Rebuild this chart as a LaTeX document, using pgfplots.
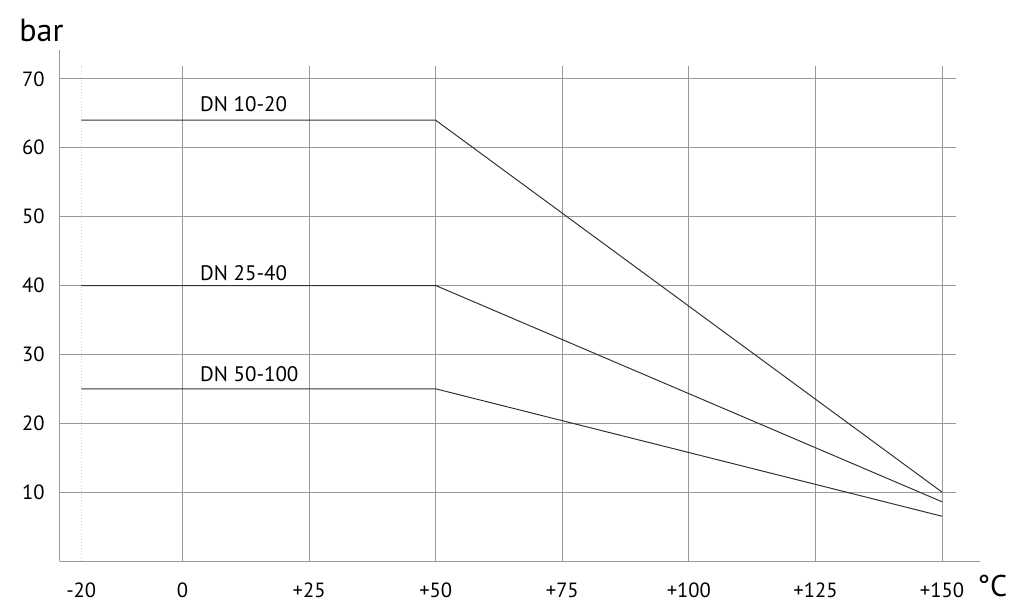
\documentclass[border=0pt]{standalone}
\usepackage{fontspec}
\setmainfont{PT Sans}
\usepackage{pgfplots}
\pgfplotsset{compat=1.18}
\begin{document}
\begin{tikzpicture}
\path[use as bounding box] (-30pt,-27.5pt) rectangle (482pt,280.5pt);
\begin{axis}[
  at={(0,0)}, anchor=south west,
  scale only axis, width=460pt, height=255.5pt,
  xmin=-24.2, xmax=157.5, ymin=0, ymax=74.2,
  axis x line=bottom, axis y line=left,
  axis line style={draw=black!40, line width=0.5pt, -},
  xtick={-20,0,25,50,75,100,125,150},
  xticklabels={-20,0,+25,+50,+75,+100,+125,+150},
  ytick={10,20,...,70},
  major tick length=0pt,
  /pgf/number format/assume math mode=true,
  xticklabel style={anchor=base, yshift=-18pt, font=\fontsize{10.3}{12}\selectfont},
  yticklabel style={anchor=east, inner sep=0pt, xshift=-7.5pt, font=\fontsize{10.3}{12}\selectfont},
  clip=false,
]
\pgfplotsinvokeforeach{10,20,...,70}{
  \draw[black!40, line width=0.5pt] (axis cs:-24.2,#1) -- (axis cs:152.8,#1);
}
\pgfplotsinvokeforeach{0,25,...,150}{
  \draw[black!40, line width=0.5pt] (axis cs:#1,0) -- (axis cs:#1,71.9);
}
\draw[black!15, line width=0.5pt, densely dotted] (axis cs:-20,0) -- (axis cs:-20,71.9);
\addplot[black!80, line width=0.5pt, mark=none] coordinates {(-20,64) (50,64) (150,10)};
\addplot[black!80, line width=0.5pt, mark=none] coordinates {(-20,40) (50,40) (150,8.6)};
\addplot[black!80, line width=0.5pt, mark=none] coordinates {(-20,25) (50,25) (150,6.5)};
\node[anchor=base west, inner sep=0pt, font=\fontsize{10.5}{12}\selectfont] at (axis cs:3.4,65.2) {DN 10-20};
\node[anchor=base west, inner sep=0pt, font=\fontsize{10.5}{12}\selectfont] at (axis cs:3.4,40.8) {DN 25-40};
\node[anchor=base west, inner sep=0pt, font=\fontsize{10.5}{12}\selectfont] at (axis cs:3.4,26.0) {DN 50-100};
\end{axis}
\node[anchor=base west, inner sep=0pt, font=\fontsize{16}{19}\selectfont] at (-20.5pt,259.5pt) {bar};
\node[anchor=base west, inner sep=0pt, font=\fontsize{15}{18}\selectfont] at (458.5pt,-18pt) {°C};
\end{tikzpicture}
\end{document}
